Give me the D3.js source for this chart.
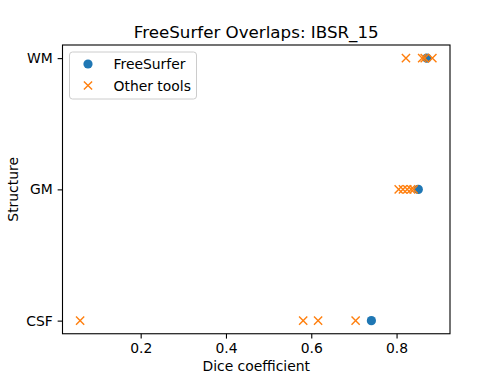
<!DOCTYPE html>
<html>
<head>
<meta charset="utf-8">
<script src="https://cdn.jsdelivr.net/npm/d3@7"></script>
<style>
  body { margin: 0; background: #fff; overflow: hidden; }
  text { font-family: "DejaVu Sans", sans-serif; }
</style>
</head>
<body>
<script>
// structures on the y axis (bottom to top)
var structures = ["CSF", "GM", "WM"];

// FreeSurfer dice per structure
var freesurferDice = [0.741, 0.851, 0.871];

// other tools, one list per structure
var otherCSF = [0.058, 0.581, 0.616, 0.704];
var otherGM = [0.805, 0.815, 0.825, 0.834, 0.840];
var otherWM = [0.822, 0.860, 0.866, 0.884];

var xTicks = [0.2, 0.4, 0.6, 0.8];

var width = 500;
var height = 375;
var margin = { top: 45, right: 50, bottom: 41.25, left: 62.5 };
var innerWidth = width - margin.left - margin.right;
var innerHeight = height - margin.top - margin.bottom;

var blue = "#1f77b4";
var orange = "#ff7f0e";

var svg = d3.select("body")
  .append("svg")
  .attr("width", width)
  .attr("height", height)
  .style("display", "block");

var g = svg.append("g")
  .attr("transform", "translate(" + margin.left + "," + margin.top + ")");

var freesurfer = structures.map(function(s, i) { return { s: s, v: freesurferDice[i] }; });
var others = [];
[otherCSF, otherGM, otherWM].forEach(function(list, i) {
  list.forEach(function(v) { others.push({ s: structures[i], v: v }); });
});

// matplotlib style 5% margins
var allVals = freesurferDice.concat(otherCSF, otherGM, otherWM);
var lo = d3.min(allVals), hi = d3.max(allVals);
var pad = (hi - lo) * 0.05;

var x = d3.scaleLinear()
  .domain([lo - pad, hi + pad])
  .range([0, innerWidth]);

var yIdx = d3.scaleLinear()
  .domain([-0.1, structures.length - 1 + 0.1])
  .range([innerHeight, 0]);
function y(s) { return yIdx(structures.indexOf(s)); }

function xPath() {
  var r = 4.1;
  return "M" + (-r) + "," + (-r) + "L" + r + "," + r + "M" + (-r) + "," + r + "L" + r + "," + (-r);
}

// axes
var xAxis = d3.axisBottom(x).tickValues(xTicks).tickFormat(d3.format(".1f")).tickSizeOuter(0).tickSize(4.86).tickPadding(4.9);
var gx = g.append("g")
  .attr("transform", "translate(0," + innerHeight + ")")
  .call(xAxis);

var yAxis = d3.axisLeft(yIdx).tickValues(d3.range(structures.length))
  .tickFormat(function(d) { return structures[d]; }).tickSizeOuter(0).tickSize(4.86).tickPadding(4.9);
var gy = g.append("g").call(yAxis);

[gx, gy].forEach(function(a) {
  a.select(".domain").remove();
  a.selectAll(".tick line").attr("stroke", "#000").attr("stroke-width", 1.1);
  a.selectAll(".tick text").attr("font-size", "13.9px").attr("fill", "#000")
    .attr("font-family", "DejaVu Sans, sans-serif");
});

// points
g.selectAll(".fs")
  .data(freesurfer)
  .enter()
  .append("circle")
  .attr("class", "fs")
  .attr("cx", function(d) { return x(d.v); })
  .attr("cy", function(d) { return y(d.s); })
  .attr("r", 4.6)
  .attr("fill", blue);

g.selectAll(".ot")
  .data(others)
  .enter()
  .append("path")
  .attr("class", "ot")
  .attr("d", xPath())
  .attr("transform", function(d) { return "translate(" + x(d.v) + "," + y(d.s) + ")"; })
  .attr("stroke", orange)
  .attr("stroke-width", 1.4)
  .attr("fill", "none");

// frame
g.append("rect")
  .attr("width", innerWidth)
  .attr("height", innerHeight)
  .attr("fill", "none")
  .attr("stroke", "#000")
  .attr("stroke-width", 1.1);

// title and labels
svg.append("text")
  .attr("x", margin.left + innerWidth / 2)
  .attr("y", margin.top - 7)
  .attr("text-anchor", "middle")
  .attr("font-size", "16.7px")
  .text("FreeSurfer Overlaps: IBSR_15");

svg.append("text")
  .attr("x", margin.left + innerWidth / 2)
  .attr("y", 370.5)
  .attr("text-anchor", "middle")
  .attr("font-size", "13.9px")
  .text("Dice coefficient");

svg.append("text")
  .attr("transform", "translate(18," + (margin.top + innerHeight / 2) + ") rotate(-90)")
  .attr("text-anchor", "middle")
  .attr("font-size", "13.9px")
  .text("Structure");

// legend
var leg = g.append("g").attr("transform", "translate(7,7)");
leg.append("rect")
  .attr("width", 127)
  .attr("height", 47)
  .attr("rx", 3)
  .attr("fill", "#fff")
  .attr("fill-opacity", 0.8)
  .attr("stroke", "#ccc")
  .attr("stroke-width", 1);

leg.append("circle").attr("cx", 18.5).attr("cy", 12).attr("r", 4.6).attr("fill", blue);
leg.append("path").attr("d", xPath())
  .attr("transform", "translate(18.5,33.5)")
  .attr("stroke", orange).attr("stroke-width", 1.4).attr("fill", "none");

leg.append("text").attr("x", 44).attr("y", 17).attr("font-size", "13.9px").text("FreeSurfer");
leg.append("text").attr("x", 44).attr("y", 38.5).attr("font-size", "13.9px").text("Other tools");
</script>
</body>
</html>
